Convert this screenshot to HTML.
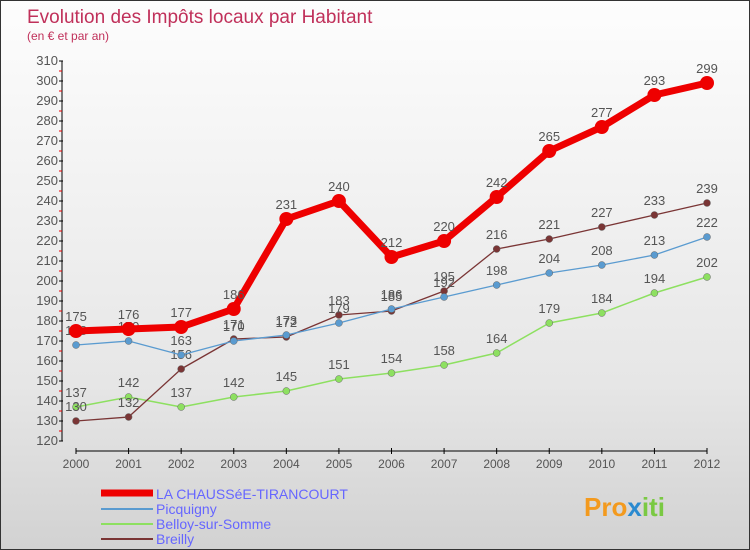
<!DOCTYPE html>
<html><head><meta charset="utf-8"><style>
body{margin:0;}
#c{width:750px;height:550px;position:relative;overflow:hidden;border:1px solid #333;box-sizing:border-box;background:linear-gradient(#fdfdfd,#e6e6e6 70%,#d2d2d2);font-family:"Liberation Sans",sans-serif;}
</style></head><body>
<div id="c">
<svg width="750" height="550" id="svg" style="position:absolute;left:0;top:0">
<text x="26" y="22" font-size="19" fill="#c0305a">Evolution des Impôts locaux par Habitant</text>
<text x="26" y="39" font-size="12" fill="#c0305a">(en € et par an)</text>
<g id="axes"></g><g id="series"></g>
<g>
<line x1="100" y1="492" x2="152" y2="492" stroke="#e00" stroke-width="7"/>
<text x="155" y="498" font-size="14" fill="#66f">LA CHAUSSéE-TIRANCOURT</text>
<line x1="100" y1="508" x2="152" y2="508" stroke="#5a9bd0" stroke-width="2"/>
<text x="155" y="513" font-size="14" fill="#66f">Picquigny</text>
<line x1="100" y1="523" x2="152" y2="523" stroke="#8de060" stroke-width="2"/>
<text x="155" y="528" font-size="14" fill="#66f">Belloy-sur-Somme</text>
<line x1="100" y1="538" x2="152" y2="538" stroke="#7a3535" stroke-width="2"/>
<text x="155" y="543" font-size="14" fill="#66f">Breilly</text>
</g>
<text x="583" y="515" font-size="26" font-weight="bold" fill="#f39a1e">Pro<tspan fill="#2a8ad0">x</tspan><tspan fill="#7ac943">iti</tspan></text>
</svg>
</div>
<script>
const years=[2000,2001,2002,2003,2004,2005,2006,2007,2008,2009,2010,2011,2012];
const yTicks=[120,130,140,150,160,170,180,190,200,210,220,230,240,250,260,270,280,290,300,310];
const laChaussee=[175,176,177,186,231,240,212,220,242,265,277,293,299];
const picquigny=[168,170,163,170,173,179,186,192,198,204,208,213,222];
const belloy=[137,142,137,142,145,151,154,158,164,179,184,194,202];
const breilly=[130,132,156,171,172,183,185,195,216,221,227,233,239];
const NS='http://www.w3.org/2000/svg';
function X(i){return 75+i*(706-75)/(years.length-1);}
function Y(v){return 440-(v-120)*2;}
function mk(t,a,p){const e=document.createElementNS(NS,t);for(const k in a)e.setAttribute(k,a[k]);p.appendChild(e);return e;}
const ax=document.getElementById('axes');
mk('line',{x1:61,y1:Y(310),x2:61,y2:Y(120),stroke:'#000'},ax);
mk('line',{x1:X(0),y1:450,x2:X(years.length-1),y2:450,stroke:'#000'},ax);
yTicks.forEach(v=>{
 mk('line',{x1:58,y1:Y(v),x2:62,y2:Y(v),stroke:'#000'},ax);
 if(v<310)mk('line',{x1:58,y1:Y(v+5),x2:61,y2:Y(v+5),stroke:'#e00'},ax);
 const t=mk('text',{x:57,y:Y(v)+4,'font-size':13,fill:'#555','text-anchor':'end'},ax);
 
 
 t.textContent=v;
});
years.forEach((y,i)=>{
 mk('line',{x1:X(i),y1:447,x2:X(i),y2:453,stroke:'#000'},ax);
 const t=mk('text',{x:X(i),y:467,'font-size':12,fill:'#555','text-anchor':'middle'},ax);
 
 
 t.textContent=y;
});
const sg=document.getElementById('series');
function series(data,color,w,r,name){
 const g=mk('g',{},sg);
 
 
 mk('polyline',{points:data.map((v,i)=>X(i)+','+Y(v)).join(' '),fill:'none',stroke:color,'stroke-width':w,'stroke-linejoin':'round'},g);
 data.forEach((v,i)=>{
  const c=mk('circle',{cx:X(i),cy:Y(v),r:r,fill:color,stroke:'#666','stroke-width':r>4?0:0.5},g);
  
  
  const t=mk('text',{x:X(i),y:Y(v)-10,'font-size':13,fill:'#555','text-anchor':'middle'},g);
  
  
  t.textContent=v;
 });
}
series(belloy,'#8de060',1.5,3.5,'belloy-series');
series(breilly,'#7a3535',1.3,3.5,'breilly-series');
series(picquigny,'#5a9bd0',1.3,3.5,'picquigny-series');
series(laChaussee,'#e00',7,7,'la-chaussee-series');
</script>
</body></html>
